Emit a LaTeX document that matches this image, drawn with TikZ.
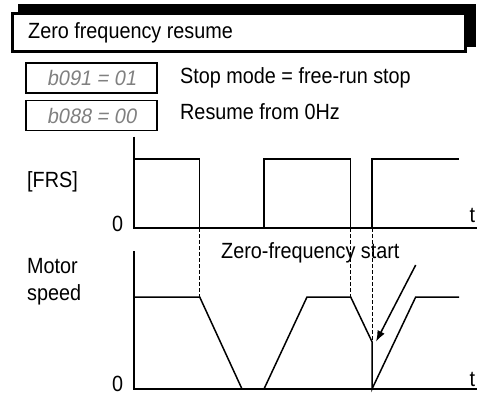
\documentclass[tikz,border=0pt]{standalone}
\usepackage{fontspec}
\setmainfont{Liberation Sans}[FakeStretch=0.9]
\newfontfamily\lcdfont{Liberation Sans}[FakeStretch=0.95,FakeSlant=0.18]
\usetikzlibrary{arrows.meta}
\begin{document}
\begin{tikzpicture}[x=1pt,y=-1pt,
  lbl/.style={inner sep=0pt,anchor=base west,font=\fontsize{22}{26}\selectfont},
  parbox/.style={draw,line width=1.4pt,minimum width=131pt,minimum height=30pt,inner sep=0pt,
    font=\lcdfont\fontsize{21}{24}\selectfont,text=black!50},
  axis/.style={line width=1.9pt},
  trace/.style={line width=1.5pt,line join=miter},
  guide/.style={line width=1pt,dash pattern=on 3.5pt off 2.5pt}]
\useasboundingbox (0,0) rectangle (477,397);
% title
\fill (18,4) rectangle (476,47);
\draw[line width=3pt,fill=white] (12.5,13.5) rectangle (465.5,51.5);
\node[lbl] (title) at (28,38.3) {Zero frequency resume};
% parameters
\node[parbox] (p1) at (91.5,78) {b091 = 01};
\node[parbox] (p2) at (91.5,115.5) {b088 = 00};
\node[lbl] (d1) at (180,83) {Stop mode = free-run stop};
\node[lbl] (d2) at (180,119) {Resume from 0Hz};
% FRS chart
\node[lbl] (frs) at (27,187) {[FRS]};
\node[lbl] (z1) at (112,231.5) {0};
\node[lbl] (t1) at (469.5,222) {t};
\draw[axis] (134,136.7) -- (134,228) -- (477,228);
\draw[trace] (134,159) -- (199.7,159) -- (199.7,228);
\draw[trace] (264,228) -- (264,159) -- (350.7,159) -- (350.7,228);
\draw[trace] (372,228) -- (372,159) -- (459,159);
% speed chart
\node[lbl] (mot) at (27,273) {Motor};
\node[lbl] (spd) at (27,300) {speed};
\node[lbl] (z2) at (112,391) {0};
\node[lbl] (t2) at (469.5,386) {t};
\draw[axis] (134,251) -- (134,389) -- (477,389);
\coordinate (dip) at (372,341.7);
\draw[trace] (134,297) -- (199.7,297) -- (242,389);
\draw[trace] (264,389) -- (307,297) -- (350.7,297) -- (dip) -- (372,389) -- (415.7,297) -- (459,297);
% guides
\draw[guide] (199.7,228) -- (199.7,297);
\draw[guide] (350.7,228) -- (350.7,297);
\draw[guide] (372,228) -- (dip);
\node[lbl] (zfs) at (221,258) {Zero-frequency start};
\coordinate (atail) at (415.7,265);
\coordinate (ahead) at (376,341.7);
\draw[line width=1.5pt,-{Latex[length=11pt,width=8pt]}] (atail) -- (ahead);
\end{tikzpicture}
\end{document}
